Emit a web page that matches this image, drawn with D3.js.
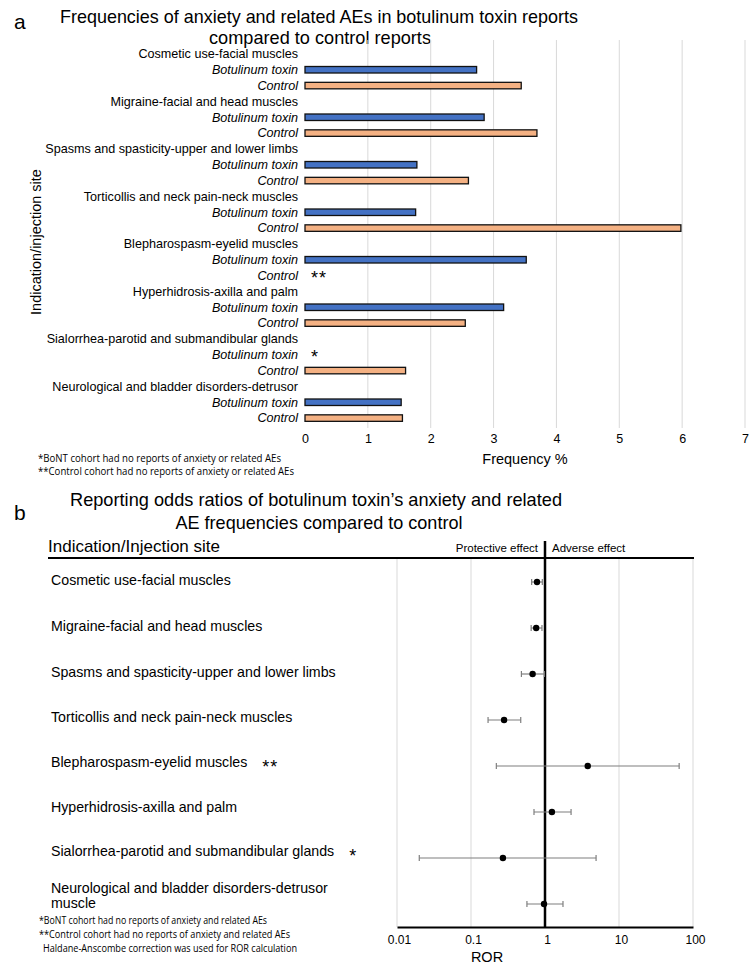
<!DOCTYPE html>
<html>
<head>
<meta charset="utf-8">
<script src="https://cdn.jsdelivr.net/npm/d3@7"></script>
<style>
  html, body { margin: 0; padding: 0; background: #fff; }
  svg { display: block; }
  text { font-family: "Liberation Sans", Arial, sans-serif; fill: #000; }
  .narrow { font-family: "Liberation Sans Narrow", "Arial Narrow", "Liberation Sans", sans-serif; }
  .note { font-family: "Liberation Sans Narrow", "Open Sans", sans-serif; }
</style>
</head>
<body>
<script>
// ---------- Panel a data ----------
const categories = [
  "Cosmetic use-facial muscles",
  "Migraine-facial and head muscles",
  "Spasms and spasticity-upper and lower limbs",
  "Torticollis and neck pain-neck muscles",
  "Blepharospasm-eyelid muscles",
  "Hyperhidrosis-axilla and palm",
  "Sialorrhea-parotid and submandibular glands",
  "Neurological and bladder disorders-detrusor"
];
const seriesNames = ["Botulinum toxin", "Control"];
const botoxFreq   = [2.73, 2.85, 1.78, 1.76, 3.52, 3.16, null, 1.53];
const controlFreq = [3.44, 3.69, 2.60, 5.98, null, 2.55, 1.60, 1.55];
const freqTicks = [0, 1, 2, 3, 4, 5, 6, 7];
const freqNotes = ["*BoNT cohort had no reports of anxiety or related AEs",
                   "**Control cohort had no reports of anxiety or related AEs"];

// ---------- Panel b data ----------
const rorLabels = [
  ["Cosmetic use-facial muscles"],
  ["Migraine-facial and head muscles"],
  ["Spasms and spasticity-upper and lower limbs"],
  ["Torticollis and neck pain-neck muscles"],
  ["Blepharospasm-eyelid muscles"],
  ["Hyperhidrosis-axilla and palm"],
  ["Sialorrhea-parotid and submandibular glands"],
  ["Neurological and bladder disorders-detrusor", "muscle"]
];
const rorMarks = ["", "", "", "", "**", "", "*", ""];
const rorValue = [0.78, 0.76, 0.68, 0.28, 3.78, 1.24, 0.27, 0.97];
const rorLow   = [0.66, 0.65, 0.48, 0.17, 0.22, 0.71, 0.020, 0.57];
const rorHigh  = [0.92, 0.91, 0.98, 0.47, 65, 2.25, 4.9, 1.75];
const rorTicks = [0.01, 0.1, 1, 10, 100];
const rorNotes = ["*BoNT cohort had no reports of anxiety and related AEs",
                  "**Control cohort had no reports of anxiety and related AEs",
                  "Haldane-Anscombe correction was used for ROR calculation"];

const W = 749, H = 966;
const svg = d3.select("body").append("svg").attr("width", W).attr("height", H);

// ================= PANEL A =================
svg.append("text").attr("x", 14).attr("y", 29).attr("font-size", 21).text("a");
svg.append("text").attr("class", "narrow").attr("x", 319).attr("y", 23)
  .attr("text-anchor", "middle").attr("font-size", 19)
  .attr("textLength", 518).attr("lengthAdjust", "spacingAndGlyphs")
  .text("Frequencies of anxiety and related AEs in botulinum toxin reports");
svg.append("text").attr("class", "narrow").attr("x", 320).attr("y", 44)
  .attr("text-anchor", "middle").attr("font-size", 19)
  .attr("textLength", 222).attr("lengthAdjust", "spacingAndGlyphs")
  .text("compared to control reports");

const rowKeys = [];
categories.forEach((c, i) => { rowKeys.push("L" + i, "B" + i, "C" + i); });
const yA = d3.scaleBand().domain(rowKeys).range([46, 426]);
const xA = d3.scaleLinear().domain([0, 7]).range([305, 745]);

const gA = svg.append("g");
gA.selectAll("line.grid").data(freqTicks.filter(t => t > 0)).join("line")
  .attr("x1", d => xA(d)).attr("x2", d => xA(d))
  .attr("y1", 40).attr("y2", 428)
  .attr("stroke", "#d9d9d9").attr("stroke-width", 1);

const axA = d3.axisBottom(xA).tickValues(freqTicks).tickFormat(d3.format("d")).tickSize(0).tickPadding(6);
const axAg = svg.append("g").attr("transform", "translate(0,428)").call(axA);
axAg.select(".domain").remove();
axAg.selectAll("text").attr("font-size", 12.5).attr("font-family", "Liberation Sans, Arial, sans-serif").attr("fill", "#000");

gA.selectAll("text.cat").data(categories).join("text")
  .attr("x", 298).attr("y", (d, i) => yA("L" + i) + yA.bandwidth() / 2)
  .attr("dy", "0.35em").attr("text-anchor", "end").attr("font-size", 12.6).text(d => d);

const bars = [];
categories.forEach((c, i) => {
  bars.push({ key: "B" + i, name: seriesNames[0], v: botoxFreq[i], color: "#4472C4" });
  bars.push({ key: "C" + i, name: seriesNames[1], v: controlFreq[i], color: "#F4B183" });
});
gA.selectAll("text.ser").data(bars).join("text")
  .attr("x", 298).attr("y", d => yA(d.key) + yA.bandwidth() / 2)
  .attr("dy", "0.35em").attr("text-anchor", "end").attr("font-size", 12.6)
  .attr("font-style", "italic").text(d => d.name);

const barH = 6.5;
gA.selectAll("rect.bar").data(bars.filter(d => d.v != null)).join("rect")
  .attr("x", xA(0)).attr("y", d => yA(d.key) + yA.bandwidth() / 2 - barH / 2)
  .attr("width", d => xA(d.v) - xA(0)).attr("height", barH)
  .attr("fill", d => d.color).attr("stroke", "#111").attr("stroke-width", 1.3);

gA.selectAll("text.star").data(bars.filter(d => d.v == null)).join("text")
  .attr("x", xA(0) + 6).attr("y", d => yA(d.key) + yA.bandwidth() / 2 + 8)
  .attr("font-size", 18).attr("letter-spacing", 1).text(d => d.name === "Control" ? "**" : "*");

svg.append("text").attr("transform", "translate(41,242) rotate(-90)")
  .attr("text-anchor", "middle").attr("font-size", 14.5).text("Indication/injection site");
svg.append("text").attr("x", (xA(0) + xA(7)) / 2).attr("y", 464)
  .attr("text-anchor", "middle").attr("font-size", 14.5).text("Frequency %");
const fnALen = [243, 256];
svg.selectAll("text.fnA").data(freqNotes).join("text").attr("class", "note")
  .attr("x", 38).attr("y", (d, i) => 461.5 + i * 13.5).attr("font-size", 10)
  .attr("textLength", (d, i) => fnALen[i]).attr("lengthAdjust", "spacingAndGlyphs").text(d => d);

// ================= PANEL B =================
svg.append("text").attr("x", 14).attr("y", 520).attr("font-size", 21).text("b");
svg.append("text").attr("class", "narrow").attr("x", 316).attr("y", 506)
  .attr("text-anchor", "middle").attr("font-size", 19)
  .attr("textLength", 492).attr("lengthAdjust", "spacingAndGlyphs")
  .text("Reporting odds ratios of botulinum toxin\u2019s anxiety and related");
svg.append("text").attr("class", "narrow").attr("x", 319).attr("y", 529)
  .attr("text-anchor", "middle").attr("font-size", 19)
  .attr("textLength", 287).attr("lengthAdjust", "spacingAndGlyphs")
  .text("AE frequencies compared to control");

const xB = d3.scaleLog().domain([0.01, 100]).range([397, 693]);
const yB = d3.scalePoint().domain(d3.range(rorValue.length)).range([582, 904]);

svg.append("text").attr("class", "narrow").attr("x", 48).attr("y", 552)
  .attr("font-size", 17).text("Indication/Injection site");
svg.append("text").attr("class", "narrow").attr("x", xB(1) - 7).attr("y", 552)
  .attr("text-anchor", "end").attr("font-size", 11.5).text("Protective effect");
svg.append("text").attr("class", "narrow").attr("x", xB(1) + 7).attr("y", 552)
  .attr("font-size", 11.5).text("Adverse effect");

svg.selectAll("line.gridB").data(rorTicks.filter(t => t !== 1)).join("line")
  .attr("x1", d => xB(d)).attr("x2", d => xB(d)).attr("y1", 558).attr("y2", 927)
  .attr("stroke", "#d9d9d9").attr("stroke-width", 1);
svg.append("line").attr("x1", 48).attr("x2", 694).attr("y1", 558).attr("y2", 558)
  .attr("stroke", "#000").attr("stroke-width", 2.2);

const axB = d3.axisBottom(xB).tickValues(rorTicks).tickFormat(d => String(d)).tickSize(0).tickPadding(8);
const axBg = svg.append("g").attr("transform", "translate(0,927)").call(axB);
axBg.select(".domain").attr("stroke", "#000").attr("stroke-width", 2);
axBg.selectAll("text").attr("font-size", 12).attr("font-family", "Liberation Sans, Arial, sans-serif")
  .attr("fill", "#000").attr("dx", 2);

svg.append("line").attr("x1", xB(1)).attr("x2", xB(1)).attr("y1", 541).attr("y2", 927)
  .attr("stroke", "#000").attr("stroke-width", 2.5);

const labY = [580, 626, 672, 717, 762, 807, 851, 888];
rorLabels.forEach((d, i) => {
  const t = svg.append("text").attr("x", 51).attr("y", labY[i]).attr("font-size", 14.2).attr("dy", "0.35em");
  d.forEach((line, j) => t.append("tspan").attr("x", 51).attr("dy", j === 0 ? "0.35em" : "1.08em").text(line));
  if (rorMarks[i]) {
    const w = t.node().getComputedTextLength();
    svg.append("text").attr("x", 51 + w + 15).attr("y", labY[i] + 11)
      .attr("font-size", 18).attr("letter-spacing", 1).text(rorMarks[i]);
  }
});

const eb = svg.selectAll("g.eb").data(rorValue.map((v, i) => ({ v, lo: rorLow[i], hi: rorHigh[i], i })))
  .join("g").attr("transform", d => `translate(0,${yB(d.i)})`);
eb.append("line").attr("x1", d => xB(d.lo)).attr("x2", d => xB(d.hi)).attr("stroke", "#7f7f7f").attr("stroke-width", 1.2);
eb.append("line").attr("x1", d => xB(d.lo)).attr("x2", d => xB(d.lo)).attr("y1", -3).attr("y2", 3).attr("stroke", "#7f7f7f").attr("stroke-width", 1.2);
eb.append("line").attr("x1", d => xB(d.hi)).attr("x2", d => xB(d.hi)).attr("y1", -3).attr("y2", 3).attr("stroke", "#7f7f7f").attr("stroke-width", 1.2);
eb.append("circle").attr("cx", d => xB(d.v)).attr("r", 3.2).attr("fill", "#000");

svg.append("text").attr("x", 487).attr("y", 962).attr("text-anchor", "middle").attr("font-size", 14.5).text("ROR");

const fnBLen = [228, 251, 254];
const fnBX = [39, 39, 43];
svg.selectAll("text.fnB").data(rorNotes).join("text").attr("class", "note")
  .attr("x", (d, i) => fnBX[i]).attr("y", (d, i) => 924 + i * 14).attr("font-size", 10)
  .attr("textLength", (d, i) => fnBLen[i]).attr("lengthAdjust", "spacingAndGlyphs").text(d => d);
</script>
</body>
</html>
